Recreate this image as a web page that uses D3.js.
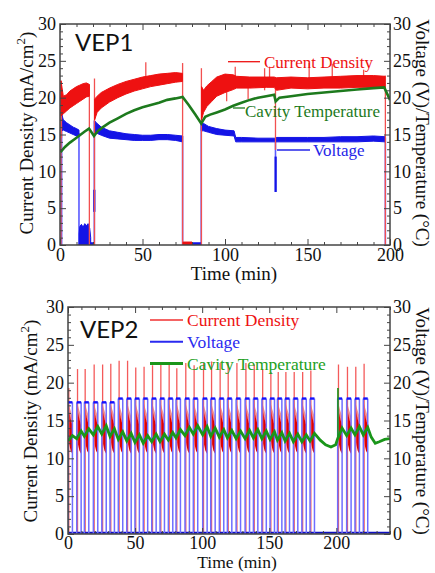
<!DOCTYPE html>
<html>
<head>
<meta charset="utf-8">
<script src="https://cdn.jsdelivr.net/npm/d3@7"></script>
<style>
body { margin: 0; background: #fff; }
svg { display: block; font-family: "Liberation Serif", "Times New Roman", serif; }
</style>
</head>
<body>
<script>
// ---------- shared tick values ----------
var yTicks = [0, 5, 10, 15, 20, 25, 30];
var timeTicks = [0, 50, 100, 150, 200];

// ---------- VEP1 (continuous) ----------
// bands are [time, low, high]
var vep1RedBands = [
    [[0.6, 17.5, 22.3], [2, 17.8, 20.2], [4, 18.2, 20.4], [6, 18.6, 20.9], [8, 18.9, 21.2],
     [10, 19.2, 21.5], [12, 19.5, 21.7], [14, 19.8, 21.9], [16, 20.1, 22.0], [17.8, 20.2, 21.8]],
    [[21.0, 17.0, 19.8], [22.5, 18.0, 20.2], [25, 18.6, 20.7], [30, 19.4, 21.3], [35, 20.0, 21.8],
     [40, 20.5, 22.2], [45, 20.9, 22.5], [50, 21.2, 22.8], [55, 21.5, 23.0], [60, 21.7, 23.2],
     [65, 21.9, 23.3], [70, 22.1, 23.4], [74.2, 22.2, 23.3]],
    [[85.8, 17.0, 21.5], [87, 18.0, 21.0], [89, 18.8, 21.6], [92, 19.5, 22.2], [95, 20.2, 22.8],
     [100, 20.7, 23.2], [105, 21.1, 23.1], [107, 21.3, 22.9], [115, 21.3, 22.8], [125, 21.4, 22.8],
     [129.8, 21.4, 22.8], [131.2, 21.0, 22.7], [140, 21.3, 22.8], [150, 21.2, 22.7], [160, 21.3, 22.8],
     [170, 21.3, 22.9], [180, 21.4, 23.0], [190, 21.4, 23.0], [197, 21.3, 22.9]],
    [[74.6, 0, 0.4], [80, 0, 0.4]]
];
// [time, from, to]
var vep1RedSpikes = [
    [0.6, 0, 22.3], [0.9, 14.5, 21.0], [17.8, 0, 21.8], [20.9, 0, 22.6], [52, 22.0, 24.8],
    [74.3, 0, 24.7], [85.7, 0, 24.0], [101, 19.5, 22.0], [106.2, 21.5, 24.2], [114, 19.8, 22.0],
    [124, 21.0, 24.0], [127, 22.0, 24.2], [130.6, 12.9, 22.5], [151, 22.5, 24.7], [165, 22.5, 24.6],
    [184, 22.5, 23.8], [197.2, 0, 23.0]
];
var vep1BlueBands = [
    [[1.0, 15.5, 17.8], [2, 15.6, 17.0], [4, 15.4, 16.6], [6, 15.2, 16.3], [8, 15.0, 16.0],
     [10, 14.8, 15.8], [11.5, 14.7, 15.6]],
    [[11.6, 0, 1.5], [12, 0, 2.5], [13, 0, 2.8], [14, 0, 2.4], [15, 0, 2.9], [16, 0, 2.6],
     [17, 0, 2.9], [18, 0, 2.3], [18.6, 0, 1.0]],
    [[20.9, 15.3, 16.9], [22, 15.2, 16.6], [25, 14.9, 16.0], [30, 14.5, 15.5], [35, 14.4, 15.3],
     [40, 14.3, 15.1], [45, 14.2, 15.0], [50, 14.2, 14.9], [55, 14.2, 14.9], [60, 14.3, 15.0],
     [65, 14.3, 15.0], [70, 14.2, 14.9], [74.2, 14.0, 14.8]],
    [[85.6, 15.5, 16.8], [87, 15.5, 16.5], [90, 15.3, 16.1], [95, 15.0, 15.8], [100, 14.9, 15.6],
     [105.5, 14.8, 15.5], [106.5, 14.0, 14.6], [110, 14.0, 14.6], [120, 14.0, 14.5], [130, 14.0, 14.5],
     [131.5, 14.0, 14.6], [140, 14.0, 14.6], [150, 14.0, 14.6], [160, 14.0, 14.6], [170, 14.0, 14.7],
     [180, 14.0, 14.7], [190, 14.1, 14.8], [197, 14.0, 14.7]],
    [[18.6, 0, 0.3], [20.8, 0, 0.3]],
    [[74.3, 0, 0.3], [85.6, 0, 0.3]]
];
var vep1BlueSpikes = [
    [1.0, 0, 17.8], [11.5, 0, 15.2], [20.8, 0, 16.9], [74.3, 0, 14.8], [85.6, 0, 16.8],
    [130.6, 7.2, 14.3], [197.2, 0, 14.6]
];
var vep1BlueDark = [[20.8, 4.5, 7.5], [130.7, 7.2, 12.0]];
var vep1Green = [
    [0.3, 12.6], [3, 13.3], [6, 13.9], [9, 14.4], [12, 14.9], [15, 15.4], [17.6, 15.8], [20.6, 14.8],
    [23, 15.5], [26, 16.0], [30, 16.6], [35, 17.2], [40, 17.8], [45, 18.3], [50, 18.7], [55, 19.0],
    [60, 19.3], [65, 19.7], [70, 19.9], [74.3, 20.1], [78, 19.0], [82, 17.7], [85.6, 16.5], [88, 17.4],
    [91, 17.7], [95, 18.0], [100, 18.4], [105, 18.9], [110, 19.3], [115, 19.7], [120, 20.0], [125, 20.2],
    [129.8, 20.4], [130.7, 19.5], [133, 20.0], [140, 20.2], [150, 20.5], [160, 20.7], [170, 20.9],
    [180, 21.1], [190, 21.3], [196.5, 21.4], [200, 19.7]
];

// ---------- VEP2 (pulsed) ----------
var vep2PulseStart = [0, 6.5, 12.2, 18.9, 25.2, 31.3, 37.5, 43.8, 49.9, 56.1, 62.4, 68.6, 74.8, 80.5,
    87.2, 93.4, 100.4, 106.4, 112.8, 118.8, 125.3, 132.0, 138.2, 144.5, 150.6, 156.1, 161.8, 168.0,
    174.3, 180.4, 201.0, 207.7, 213.9, 220.1];
var vep2PulseOn = 3.3;
var vep2SpikeLag = 0.6;
var vep2RedPeak = [19.3, 21.8, 21.8, 22.4, 22.4, 22.5, 22.9, 22.9, 22.0, 22.1, 22.3, 22.4, 22.5, 21.9,
    22.6, 22.3, 22.6, 22.8, 22.6, 22.6, 22.6, 22.6, 22.4, 21.8, 21.4, 21.4, 21.4, 21.4, 21.4, 21.6,
    22.4, 22.1, 22.1, 22.5];
var vep2VoltTop = [17.4, 17.4, 17.4, 17.4, 17.4, 17.4, 17.9, 17.9, 17.9, 17.9, 17.9, 17.9, 17.9, 17.9,
    17.9, 17.9, 17.9, 17.9, 17.9, 17.9, 17.9, 17.9, 17.9, 17.9, 17.9, 17.9, 17.9, 17.9, 17.9, 17.9,
    17.9, 17.9, 17.9, 17.9];
// current during one pulse: [time after start, low, high]
var vep2RedBody = [[0.3, 12.8, 16.6], [1.0, 11.8, 16.0], [2.0, 11.0, 15.2], [3.2, 10.6, 14.4]];
var vep2RedHalo = [[0.3, 16.0, 17.4], [1.5, 15.4, 16.6], [3.2, 14.2, 15.6]];
var vep2GreenLow = [12.3, 12.6, 12.9, 13.1, 13.2, 12.9, 12.5, 12.3, 12.1, 12.0, 12.2, 12.2, 12.4, 12.7,
    13.0, 13.2, 13.1, 12.9, 12.8, 12.7, 12.6, 12.6, 12.7, 12.6, 12.5, 12.4, 12.3, 12.2, 12.2, 12.3,
    12.6, 13.0, 13.1, 13.1];
var vep2GreenHigh = [13.0, 13.6, 13.9, 14.2, 14.3, 13.9, 13.5, 13.3, 13.1, 13.0, 13.2, 13.2, 13.4, 13.8,
    14.1, 14.3, 14.2, 14.0, 13.8, 13.7, 13.6, 13.7, 13.8, 13.6, 13.5, 13.4, 13.3, 13.2, 13.1, 13.3,
    14.0, 14.0, 14.2, 14.1];
var vep2GreenGap = [[188, 12.4], [192, 11.8], [196, 11.5], [199.5, 11.8]];
var vep2GreenTail = [[226, 12.8], [229, 12.0], [232, 12.2], [236, 12.5], [240, 12.6]];
var vep2GreenSpike = [201.2, 12.6, 19.3];

var RED = '#ee1111', BLUE = '#1414e6', GREEN1 = '#1d7a1d', GREEN2 = '#1a961a';

var svg = d3.select('body').append('svg')
    .attr('width', 435)
    .attr('height', 573);

function makePanel(p) {
    var x = d3.scaleLinear().domain([0, p.xMax]).range([p.left, p.right]);
    var y = d3.scaleLinear().domain([0, 30]).range([p.bottom, p.top]);
    svg.append('clipPath').attr('id', 'clip-' + p.name)
        .append('rect')
        .attr('x', p.left).attr('y', p.top)
        .attr('width', p.right - p.left).attr('height', p.bottom - p.top);
    var g = svg.append('g');
    var data = g.append('g').attr('clip-path', 'url(#clip-' + p.name + ')');
    return {p: p, x: x, y: y, g: g, data: data};
}

function styleAxis(sel) {
    sel.select('.domain').remove();
    sel.selectAll('line').attr('stroke', '#444');
    sel.selectAll('text')
        .attr('font-family', '"Liberation Serif", serif')
        .attr('font-size', 18)
        .attr('fill', '#111');
}

function drawAxes(P) {
    var p = P.p, g = P.g;
    var minorY = d3.range(0, 31).filter(function(v) { return v % 5 !== 0; });
    var minorX = d3.range(0, p.xMax + 1, 10).filter(function(v) { return v % 50 !== 0; });

    g.append('g').attr('transform', 'translate(' + p.left + ',0)')
        .call(d3.axisLeft(P.y).tickValues(yTicks).tickSize(-6).tickPadding(4))
        .call(styleAxis);
    g.append('g').attr('transform', 'translate(' + p.left + ',0)')
        .call(d3.axisLeft(P.y).tickValues(minorY).tickSize(-3).tickFormat(''))
        .call(styleAxis);
    g.append('g').attr('transform', 'translate(' + p.right + ',0)')
        .call(d3.axisRight(P.y).tickValues(yTicks).tickSize(-6).tickPadding(3))
        .call(styleAxis);
    g.append('g').attr('transform', 'translate(' + p.right + ',0)')
        .call(d3.axisRight(P.y).tickValues(minorY).tickSize(-3).tickFormat(''))
        .call(styleAxis);
    g.append('g').attr('transform', 'translate(0,' + p.bottom + ')')
        .call(d3.axisBottom(P.x).tickValues(timeTicks).tickSize(-6).tickPadding(p.xPad))
        .call(styleAxis);
    g.append('g').attr('transform', 'translate(0,' + p.bottom + ')')
        .call(d3.axisBottom(P.x).tickValues(minorX).tickSize(-3).tickFormat(''))
        .call(styleAxis);
    g.append('g').attr('transform', 'translate(0,' + p.top + ')')
        .call(d3.axisTop(P.x).tickValues(timeTicks).tickSize(-6).tickFormat(''))
        .call(styleAxis);
    g.append('g').attr('transform', 'translate(0,' + p.top + ')')
        .call(d3.axisTop(P.x).tickValues(minorX).tickSize(-3).tickFormat(''))
        .call(styleAxis);

    g.append('rect')
        .attr('x', p.left).attr('y', p.top)
        .attr('width', p.right - p.left).attr('height', p.bottom - p.top)
        .attr('fill', 'none').attr('stroke', '#444').attr('stroke-width', 1.5);

    // axis titles
    var lt = g.append('text')
        .attr('transform', 'translate(' + p.leftTitleX + ',' + p.titleY + ') rotate(-90)')
        .attr('text-anchor', 'middle')
        .attr('font-size', 19)
        .attr('fill', '#111');
    lt.append('tspan').text('Current Density (mA/cm');
    lt.append('tspan').attr('dy', -8).attr('font-size', 13).text('2');
    lt.append('tspan').attr('dy', 8).text(')');

    g.append('text')
        .attr('transform', 'translate(' + p.rightTitleX + ',' + p.titleY + ') rotate(90)')
        .attr('text-anchor', 'middle')
        .attr('font-size', 19)
        .attr('fill', '#111')
        .text('Voltage (V)/Temperature (\u00b0C)');

    g.append('text')
        .attr('x', p.timeX).attr('y', p.timeY)
        .attr('text-anchor', 'middle')
        .attr('font-size', p.timeSize)
        .attr('fill', '#111')
        .text('Time (min)');

    g.append('text')
        .attr('x', p.nameX).attr('y', p.nameY)
        .style('font-family', 'Lato, "Open Sans", sans-serif')
        .attr('font-size', 24)
        .attr('fill', '#111')
        .text(p.name);
}

function bandPath(P) {
    return d3.area()
        .x(function(d) { return P.x(d[0]); })
        .y0(function(d) { return P.y(d[1]); })
        .y1(function(d) { return P.y(d[2]); });
}

function vLines(sel, P, rows, color, width) {
    sel.selectAll(null)
        .data(rows)
        .enter()
        .append('line')
        .attr('x1', function(d) { return P.x(d[0]); })
        .attr('x2', function(d) { return P.x(d[0]); })
        .attr('y1', function(d) { return P.y(d[1]); })
        .attr('y2', function(d) { return P.y(d[2]); })
        .attr('stroke', color)
        .attr('stroke-width', width);
}

// ================= VEP1 =================
var P1 = makePanel({name: 'VEP1', left: 60, right: 390, top: 24, bottom: 245, xMax: 200, xPad: 3,
    leftTitleX: 33, rightTitleX: 416, titleY: 133, timeX: 234, timeY: 280, timeSize: 19,
    nameX: 75, nameY: 51});

var band1 = bandPath(P1);
vLines(P1.data, P1, vep1BlueSpikes, '#5a5aff', 1.6);
P1.data.selectAll(null).data(vep1BlueBands).enter().append('path')
    .attr('d', band1).attr('fill', BLUE).attr('stroke', BLUE).attr('stroke-width', 1);
vLines(P1.data, P1, vep1BlueDark, BLUE, 2.2);
vLines(P1.data, P1, vep1RedSpikes, '#f25050', 1.3);
P1.data.selectAll(null).data(vep1RedBands).enter().append('path')
    .attr('d', band1).attr('fill', RED).attr('stroke', RED).attr('stroke-width', 1);
P1.data.append('path')
    .datum(vep1Green)
    .attr('d', d3.line().x(function(d) { return P1.x(d[0]); }).y(function(d) { return P1.y(d[1]); }))
    .attr('fill', 'none').attr('stroke', GREEN1).attr('stroke-width', 2.6);

drawAxes(P1);

// VEP1 call-out labels
var call1 = [
    {x1: 228, x2: 260, y: 61.7, tx: 264, ty: 61.7, color: RED, line: RED, text: 'Current Density'},
    {x1: 233, x2: 245, y: 108, tx: 245, ty: 111.5, color: GREEN1, line: GREEN1, text: 'Cavity Temperature'},
    {x1: 277, x2: 310, y: 150, tx: 313, ty: 150, color: '#2525e8', line: '#2525e8', text: 'Voltage'}
];
call1.forEach(function(c) {
    P1.g.append('line').attr('x1', c.x1).attr('x2', c.x2).attr('y1', c.y).attr('y2', c.y)
        .attr('stroke', c.line).attr('stroke-width', 1.3);
    P1.g.append('text').attr('x', c.tx).attr('y', c.ty).attr('dy', '0.35em')
        .attr('font-size', 17).attr('fill', c.color).text(c.text);
});

// ================= VEP2 =================
var P2 = makePanel({name: 'VEP2', left: 68, right: 390, top: 307, bottom: 534, xMax: 240, xPad: 2,
    leftTitleX: 37, rightTitleX: 416, titleY: 421, timeX: 237, timeY: 568, timeSize: 17.5,
    nameX: 80, nameY: 338});

var band2 = bandPath(P2);
var pulses = vep2PulseStart.map(function(t, i) {
    return {t: t, peak: vep2RedPeak[i], top: vep2VoltTop[i]};
});

// current bodies
P2.data.selectAll(null).data(pulses).enter().append('path')
    .attr('d', function(d) { return band2(vep2RedHalo.map(function(s) { return [d.t + s[0], s[1], s[2]]; })); })
    .attr('fill', '#f39090');
P2.data.selectAll(null).data(pulses).enter().append('path')
    .attr('d', function(d) { return band2(vep2RedBody.map(function(s) { return [d.t + s[0], s[1], s[2]]; })); })
    .attr('fill', '#e00000');
// current spikes
vLines(P2.data, P2, pulses.map(function(d) { return [d.t + vep2SpikeLag, 0, d.peak]; }), '#f45a5a', 1.3);

// voltage square wave
P2.data.append('line')
    .attr('x1', P2.x(0)).attr('x2', P2.x(240))
    .attr('y1', P2.y(0.15)).attr('y2', P2.y(0.15))
    .attr('stroke', '#1010c0').attr('stroke-width', 2);
vLines(P2.data, P2, pulses.map(function(d) { return [d.t, 0, d.top]; }), '#6e6eff', 1.5);
vLines(P2.data, P2, pulses.map(function(d) { return [d.t + vep2PulseOn, 0, d.top]; }), '#6e6eff', 1.5);
P2.data.selectAll(null).data(pulses).enter().append('line')
    .attr('x1', function(d) { return P2.x(d.t); })
    .attr('x2', function(d) { return P2.x(d.t + vep2PulseOn); })
    .attr('y1', function(d) { return P2.y(d.top); })
    .attr('y2', function(d) { return P2.y(d.top); })
    .attr('stroke', '#1212ff').attr('stroke-width', 2.4);

// temperature
var green2 = [];
vep2PulseStart.forEach(function(t, i) {
    green2.push([t, vep2GreenLow[i]]);
    green2.push([t + vep2PulseOn, vep2GreenHigh[i]]);
    if (i === 29) green2 = green2.concat(vep2GreenGap);
});
green2 = green2.concat(vep2GreenTail);
vLines(P2.data, P2, [vep2GreenSpike], GREEN2, 1.6);
P2.data.append('path')
    .datum(green2)
    .attr('d', d3.line().x(function(d) { return P2.x(d[0]); }).y(function(d) { return P2.y(d[1]); }))
    .attr('fill', 'none').attr('stroke', GREEN2).attr('stroke-width', 2.8);

drawAxes(P2);

// VEP2 legend
var legend2 = [
    {y: 320, color: RED, line: '#f03030', w: 1.4, text: 'Current Density'},
    {y: 341.7, color: '#2a2af0', line: '#2a2af0', w: 2, text: 'Voltage'},
    {y: 363.5, color: '#22a022', line: GREEN2, w: 3, text: 'Cavity Temperature'}
];
legend2.forEach(function(c) {
    P2.g.append('line').attr('x1', 150).attr('x2', 183).attr('y1', c.y).attr('y2', c.y)
        .attr('stroke', c.line).attr('stroke-width', c.w);
    P2.g.append('text').attr('x', 187).attr('y', c.y).attr('dy', '0.35em')
        .attr('font-size', 17.5).attr('fill', c.color).text(c.text);
});
</script>
</body>
</html>
